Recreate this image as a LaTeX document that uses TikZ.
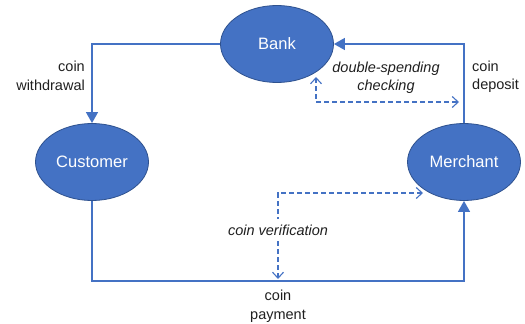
\documentclass[tikz,border=0pt]{standalone}
\usepackage{fontspec}
\setmainfont{Liberation Sans}
\usetikzlibrary{shapes.geometric,arrows.meta}
\definecolor{obl}{HTML}{4472C4}
\definecolor{obd}{HTML}{2F528F}
\definecolor{txt}{HTML}{1F1F1F}
\tikzset{
  actor/.style={ellipse,draw=obd,line width=0.8pt,fill=obl,minimum width=113pt,minimum height=77pt,inner sep=0pt,text=white,font=\fontsize{16.5}{19}\selectfont},
  flow/.style={draw=obl,line width=1.3pt,-{Triangle[width=12pt,length=11pt]}},
  dflow/.style={draw=obl,line width=1.1pt,dash pattern=on 5pt off 3pt,{Straight Barb[width=11pt,length=6pt]}-{Straight Barb[width=11pt,length=6pt]}},
  lbl/.style={font=\fontsize{14.5}{18.5}\selectfont,inner sep=0pt,text=txt},
}
\begin{document}
\begin{tikzpicture}[x=1pt,y=-1pt]
\useasboundingbox (0,0) rectangle (525,324);
\node[actor] (bank) at (277,44) {Bank};
\node[actor] (customer) at (92,162) {Customer};
\node[actor] (merchant) at (464,162) {Merchant};
\coordinate (pay) at (278,281);
\draw[flow] (bank.west) -| (customer.north);
\draw[flow] (merchant.north) |- (bank.east);
\draw[flow] (customer.south) |- (pay) -| (merchant.south);
\coordinate (dsA) at (316,77);
\coordinate (dsB) at (459,102);
\draw[dflow] (dsA) |- (dsB);
\coordinate (cvA) at (278,279);
\coordinate (cvB) at (423,193);
\draw[dflow] (cvA) |- (cvB);
\node[lbl,align=right,anchor=east] (lw) at (85,76) {coin\\withdrawal};
\node[lbl,align=left,anchor=west] (ld) at (472,77) {coin\\deposit};
\node[lbl,align=center,font=\fontsize{14.5}{18.5}\selectfont\itshape] (lds) at (386,78) {double-spending\\checking};
\node[lbl,fill=white,inner ysep=6pt,inner xsep=1pt,font=\fontsize{14.5}{18.5}\selectfont\itshape] (lcv) at (278,230) {coin verification};
\node[lbl,align=center] (lcp) at (278,306) {coin\\payment};
\end{tikzpicture}
\end{document}
